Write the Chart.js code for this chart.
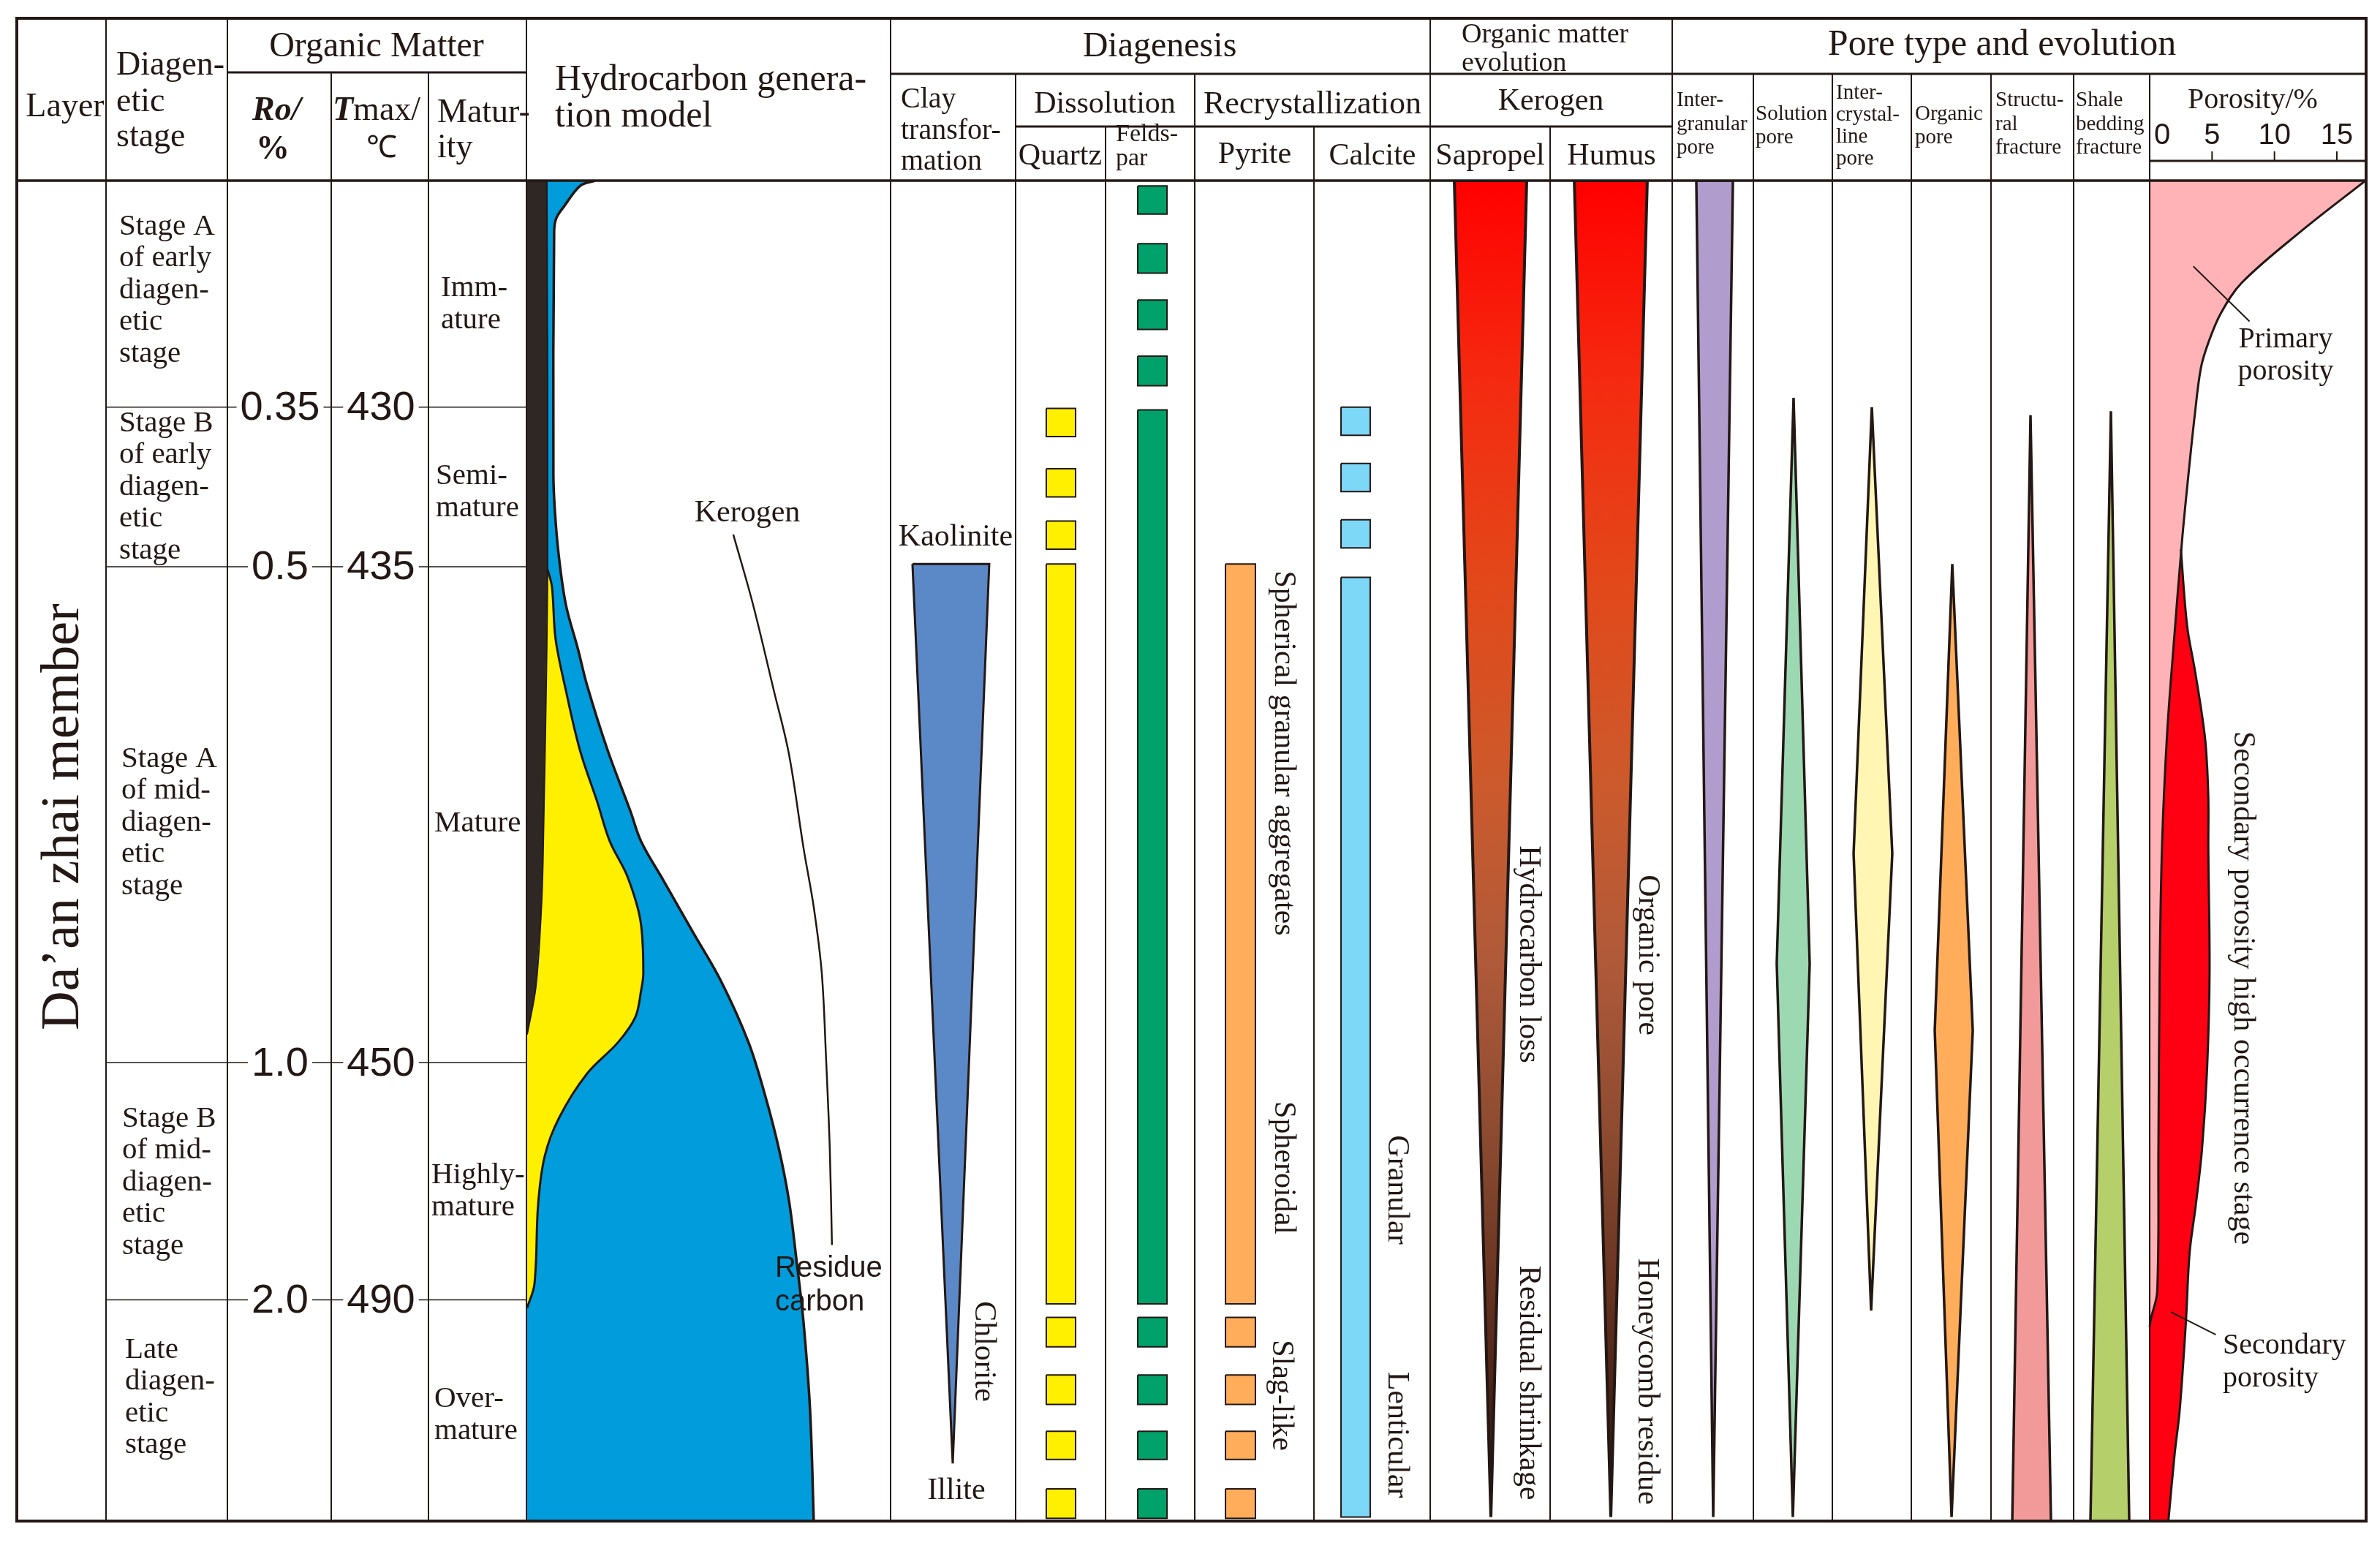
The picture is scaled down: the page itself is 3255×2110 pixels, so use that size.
<!DOCTYPE html>
<html>
<head>
<meta charset="utf-8">
<script src="https://cdn.jsdelivr.net/npm/chart.js@4.4.1/dist/chart.umd.min.js"></script>
<style>
  html, body { margin: 0; padding: 0; background: #fff; }
  canvas { display: block; }
</style>
</head>
<body>
<canvas id="chart" width="3255" height="2110"></canvas>
<script>
// ── Data (depth axis: 0 = top of section, 100 = base) ──
const stageBounds = [16.9, 28.8, 65.8, 83.5];
const roTicks = ['0.35', '0.5', '1.0', '2.0'];
const tmaxTicks = ['430', '435', '450', '490'];
const porosityTicks = [0, 5, 10, 15];

const stageLabels = [
    ['Stage A', 'of early', 'diagen-', 'etic', 'stage'],
    ['Stage B', 'of early', 'diagen-', 'etic', 'stage'],
    ['Stage A', 'of mid-', 'diagen-', 'etic', 'stage'],
    ['Stage B', 'of mid-', 'diagen-', 'etic', 'stage'],
    ['Late', 'diagen-', 'etic', 'stage']
];
const maturityLabels = [['Imm-', 'ature'], ['Semi-', 'mature'], ['Mature'], ['Highly-', 'mature'], ['Over-', 'mature']];

// hydrocarbon generation model, points are [x % of column width, depth %]
const bitumen = [[0, 0], [5.6, 0], [5.8, 29.0], [4.6, 49.8], [4.1, 54.2], [2.6, 60.1], [0.2, 63.7], [0, 63.7]];
const kerogenEdge = [[18.8, 0], [14.7, 0.4], [10.4, 1.9], [8.2, 2.8], [7.6, 3.8], [7.4, 22.0], [7.8, 24.6],
    [8.8, 27.8], [10.8, 31.6], [14.1, 34.9], [16.7, 37.7], [22.3, 42.5], [28.5, 47.0], [31.5, 49.3],
    [37.6, 52.2], [45.8, 56.1], [53.4, 59.7], [61.0, 64.3], [65.5, 68.2], [69.3, 72.2], [72.1, 76.1],
    [74.1, 80.4], [76.1, 85.2], [77.9, 91.8], [78.9, 100]];
const oilEdge = [[5.8, 29.0], [7.0, 30.3], [8.0, 34.2], [10.8, 38.0], [14.7, 42.5], [19.5, 46.4], [22.9, 49.3],
    [27.7, 51.9], [31.3, 55.2], [32.1, 59.1], [31.5, 60.4], [29.9, 62.4], [25.1, 64.3], [16.7, 66.6],
    [9.0, 69.9], [5.0, 72.8], [3.2, 76.4], [2.2, 82.3], [0.2, 84.1]];
const kerogenLeader = [[56.8, 26.4], [62.2, 31.6], [67.9, 38.0], [72.1, 42.8], [76.1, 49.8], [78.9, 54.2],
    [81.1, 59.1], [82.3, 65.6], [83.3, 72.2], [83.9, 79.4]];

// diagenesis
const clayWedge = [[17.5, 28.6], [78.9, 28.6], [49.7, 95.7]];
const quartzBars = [[17.0, 19.1], [21.5, 23.6], [25.4, 27.5], [28.6, 83.8], [84.8, 87.0], [89.1, 91.3], [93.3, 95.4], [97.6, 99.8]];
const feldsparBars = [[0.4, 2.5], [4.7, 6.9], [8.9, 11.1], [13.1, 15.3], [17.1, 83.8], [84.8, 87.0], [89.1, 91.3], [93.3, 95.4], [97.6, 99.8]];
const pyriteBars = [[28.6, 83.8], [84.8, 87.0], [89.1, 91.3], [93.3, 95.4], [97.6, 99.8]];
const calciteBars = [[16.9, 19.0], [21.1, 23.2], [25.3, 27.4], [29.6, 99.7]];

// organic matter evolution
const sapropelWedge = [[20.1, 0], [80.5, 0], [50.6, 99.7]];
const humusWedge = [[19.8, 0], [79.6, 0], [49.7, 99.7]];

// pore types
const intergranularPore = [[29.7, 0], [74.8, 0], [50.5, 99.7]];
const solutionPore = [[50.9, 16.2], [71.3, 58.4], [50.0, 99.7], [29.6, 58.4]];
const intercrystallinePore = [[50.0, 16.9], [75.9, 50.2], [49.1, 84.3], [26.9, 50.2]];
const organicPore = [[51.4, 28.6], [77.1, 63.4], [50.5, 99.7], [29.4, 63.4]];
const structuralFracture = [[47.8, 17.5], [72.6, 100], [25.7, 100]];
const shaleFracture = [[49.0, 17.2], [73.1, 100], [22.1, 100]];

// porosity curves, points are [porosity %, depth %]
const primaryEdge = [[17.3, 0], [12.1, 3.8], [7.4, 7.6], [5.7, 9.9], [4.7, 12.1], [4.1, 14.0], [3.6, 17.6],
    [3.1, 22.0], [2.6, 26.8], [1.9, 34.9], [1.4, 41.2], [1.0, 49.3], [0.8, 59.1], [0.7, 72.2],
    [0.6, 82.9], [0.1, 84.9], [0, 85.5]];
const secondaryEdge = [[2.5, 27.5], [3.0, 33.2], [3.6, 36.4], [4.2, 39.9], [4.5, 42.2], [4.7, 46.0], [4.7, 49.8],
    [4.8, 59.1], [4.6, 66.3], [4.2, 72.2], [3.7, 76.4], [3.2, 80.0], [2.9, 85.2], [2.4, 91.8],
    [2.0, 95.0], [1.5, 100]];
const primaryLeader = [[3.5, 6.4], [8.0, 10.5]];
const secondaryLeader = [[1.7, 84.4], [5.3, 86.1]];

// ── Layout ──
const INK = '#231815';
const SERIF = '"Liberation Serif", "Times New Roman", serif';
const SANS = '"Liberation Sans", Arial, sans-serif';
const BODY = { left: 23, right: 3236, top: 247, bottom: 2080, head: 25 };
const COLS = {
    layer: [23, 145], diag: [145, 311], ro: [311, 453], tmax: [453, 586], mat: [586, 720],
    hc: [720, 1218], clay: [1218, 1389], quartz: [1389, 1512], feldspar: [1512, 1634],
    pyrite: [1634, 1797], calcite: [1797, 1956], sapropel: [1956, 2120], humus: [2120, 2287],
    inter: [2287, 2398], solution: [2398, 2506], intercry: [2506, 2614], organic: [2614, 2723],
    struct: [2723, 2836], shale: [2836, 2940], poro: [2940, 3236]
};
const BAR_SPAN = { quartz: [34.1, 66.7], feldspar: [36.1, 68.9], pyrite: [25.8, 50.9], calcite: [23.3, 48.4] };
const PORO_PX = [2940, 3196]; // where porosity 0 and 15 sit
const poroK = (PORO_PX[1] - PORO_PX[0]) / 15;

const KEROGEN_STOPS = [[0, '#ff0000'], [0.15, '#f52a10'], [0.3, '#e2481a'], [0.45, '#cc5a2c'],
    [0.58, '#b05a3a'], [0.72, '#8a4a30'], [0.86, '#5a2c1c'], [1, '#2a120a']];

// ── Dataset builders ──
function pt(col, [px, py]) {
    if (col === 'poro') return { x: px, y: py };
    const [l, r] = COLS[col];
    return { x: l + (r - l) * px / 100, y: py };
}

function poly(col, pts, style) {
    const data = pts.map(p => pt(col, p));
    data.push({ ...data[0] });
    return Object.assign({
        data, showLine: true, fill: 'shape', tension: 0, pointRadius: 0,
        borderColor: INK, borderWidth: 3.5, xAxisID: col === 'poro' ? 'xp' : 'x'
    }, style);
}

function curve(col, pts, style) {
    return Object.assign({
        data: pts.map(p => pt(col, p)), showLine: true, fill: false, tension: 0.35, pointRadius: 0,
        borderColor: INK, borderWidth: 3, xAxisID: col === 'poro' ? 'xp' : 'x'
    }, style);
}

function bars(col, spans, color) {
    const [a, b] = BAR_SPAN[col];
    const data = [];
    spans.forEach(([top, base]) => {
        [[a, top], [b, top], [b, base], [a, base], [a, top]].forEach(p => data.push(pt(col, p)));
        data.push({ x: null, y: null });
    });
    return { data, showLine: true, fill: 'shape', tension: 0, pointRadius: 0,
        backgroundColor: color, borderColor: INK, borderWidth: 2, xAxisID: 'x' };
}

function kerogenGradient(c) {
    const area = c.chart.chartArea;
    if (!area) return KEROGEN_STOPS[0][1];
    const g = c.chart.ctx.createLinearGradient(0, area.top, 0, area.bottom);
    KEROGEN_STOPS.forEach(([o, col]) => g.addColorStop(o, col));
    return g;
}

const secondaryFill = [...secondaryEdge, [0, 100],
    ...primaryEdge.filter(p => p[1] > secondaryEdge[0][1]).reverse()];
const last = a => a[a.length - 1];

// painter's order: first is bottom
const layers = [
    poly('hc', [[0, 0], ...kerogenEdge, [0, 100]], { backgroundColor: '#009cdc', borderWidth: 0 }),
    poly('hc', [...oilEdge, [0, last(oilEdge)[1]], [0, oilEdge[0][1]]], { backgroundColor: '#fff000', borderWidth: 0 }),
    poly('hc', bitumen, { backgroundColor: '#2e2724', borderWidth: 0 }),
    curve('hc', kerogenEdge, { borderWidth: 3.5 }),
    curve('hc', oilEdge, { borderWidth: 3 }),
    curve('hc', bitumen.slice(1, 7), { borderWidth: 2 }),
    curve('hc', kerogenLeader, { borderWidth: 2.5 }),

    poly('clay', clayWedge, { backgroundColor: '#5b88c6', borderWidth: 3 }),
    bars('quartz', quartzBars, '#fff000'),
    bars('feldspar', feldsparBars, '#00a16b'),
    bars('pyrite', pyriteBars, '#ffad5a'),
    bars('calcite', calciteBars, '#7dd7f6'),

    poly('sapropel', sapropelWedge, { backgroundColor: kerogenGradient, borderWidth: 4 }),
    poly('humus', humusWedge, { backgroundColor: kerogenGradient, borderWidth: 4 }),

    poly('inter', intergranularPore, { backgroundColor: '#b09dce' }),
    poly('solution', solutionPore, { backgroundColor: '#9cd9b2' }),
    poly('intercry', intercrystallinePore, { backgroundColor: '#fff6b4' }),
    poly('organic', organicPore, { backgroundColor: '#ffad5a' }),
    poly('struct', structuralFracture, { backgroundColor: '#f29a9a' }),
    poly('shale', shaleFracture, { backgroundColor: '#b5cf6b' }),

    poly('poro', [[0, 0], ...primaryEdge], { backgroundColor: '#ffb3b6', borderWidth: 0 }),
    poly('poro', secondaryFill, { backgroundColor: '#ff0012', borderWidth: 0 }),
    curve('poro', primaryEdge, { borderWidth: 3 }),
    curve('poro', secondaryEdge, { borderWidth: 3 }),
    curve('poro', primaryLeader, { borderWidth: 2, tension: 0 }),
    curve('poro', secondaryLeader, { borderWidth: 2, tension: 0 })
];

// ── Table, headers and labels ──
const V_RULES = [[145, 25], [311, 25], [453, 99], [586, 99], [720, 25], [1218, 25], [1389, 101], [1512, 173],
    [1634, 101], [1797, 173], [1956, 25], [2120, 173], [2287, 25], [2398, 101], [2506, 101], [2614, 101],
    [2723, 101], [2836, 101], [2940, 101]];
const H_RULES = [[311, 720, 99], [1218, 3236, 101], [1389, 2287, 173], [2940, 3236, 220]];

const HEAD = [
    ['Layer', 89, 147, 46, 'center'],
    ['Diagen-', 159, 90, 46], ['etic', 159, 140, 46], ['stage', 159, 188, 46],
    ['Organic Matter', 515, 64, 48, 'center'],
    ['Matur-', 598, 155, 46], ['ity', 598, 203, 46],
    ['Hydrocarbon genera-', 759, 110, 50], ['tion model', 759, 160, 50],
    ['Diagenesis', 1586, 64, 48, 'center'],
    ['Organic matter', 1999, 48, 38], ['evolution', 1999, 87, 38],
    ['Pore type and evolution', 2738, 62, 50, 'center'],
    ['Clay', 1232, 136, 40], ['transfor-', 1232, 179, 40], ['mation', 1232, 221, 40],
    ['Dissolution', 1511, 143, 42, 'center'], ['Recrystallization', 1795, 143, 44, 'center'],
    ['Kerogen', 2121, 139, 42, 'center'],
    ['Quartz', 1450, 214, 42, 'center'], ['Felds-', 1526, 184, 34], ['par', 1526, 217, 34],
    ['Pyrite', 1716, 212, 42, 'center'], ['Calcite', 1877, 214, 42, 'center'],
    ['Sapropel', 2038, 214, 42, 'center'], ['Humus', 2204, 214, 42, 'center'],
    ['Porosity/%', 3081, 137, 40, 'center'],
    ['Inter-', 2293, 137, 29], ['granular', 2293, 170, 29], ['pore', 2293, 202, 29],
    ['Solution', 2401, 156, 29], ['pore', 2401, 188, 29],
    ['Inter-', 2511, 127, 29], ['crystal-', 2511, 157, 29], ['line', 2511, 187, 29], ['pore', 2511, 217, 29],
    ['Organic', 2619, 156, 29], ['pore', 2619, 188, 29],
    ['Structu-', 2729, 137, 29], ['ral', 2729, 170, 29], ['fracture', 2729, 202, 29],
    ['Shale', 2839, 137, 29], ['bedding', 2839, 170, 29], ['fracture', 2839, 202, 29]
];

// [text, x, y, size, align, rotation deg, family]
const BODY_TEXT = [
    ['Da\u2019an zhai member', 88, 1117, 74, 'center', -90],
    ['Kerogen', 1022, 702, 42, 'center'],
    ['Residue', 1060, 1735, 40, 'left', 0, SANS],
    ['carbon', 1060, 1781, 40, 'left', 0, SANS],
    ['Kaolinite', 1307, 735, 42, 'center'],
    ['Chlorite', 1345, 1848, 42, 'center', 90],
    ['Illite', 1308, 2039, 42, 'center'],
    ['Spherical granular aggregates', 1755, 1030, 42, 'center', 90],
    ['Spheroidal', 1755, 1597, 42, 'center', 90],
    ['Slag-like', 1752, 1908, 42, 'center', 90],
    ['Granular', 1910, 1627, 42, 'center', 90],
    ['Lenticular', 1910, 1962, 42, 'center', 90],
    ['Hydrocarbon loss', 2090, 1305, 42, 'center', 90],
    ['Residual shrinkage', 2090, 1891, 42, 'center', 90],
    ['Organic pore', 2253, 1306, 42, 'center', 90],
    ['Honeycomb residue', 2252, 1889, 42, 'center', 90],
    ['Primary', 3126, 464, 40, 'center'],
    ['porosity', 3126, 508, 40, 'center'],
    ['Secondary porosity high occurrence stage', 3067, 1351, 42, 'center', 90],
    ['Secondary', 3040, 1840, 40, 'left'],
    ['porosity', 3040, 1885, 40, 'left']
];
const STAGE_POS = [[163, 310], [163, 579], [166, 1038], [167, 1530], [171, 1846]];
const MAT_POS = [[603, 394], [596, 651], [594, 1126], [590, 1607], [594, 1913]];

function write(ctx, str, x, y, font, align = 'left', rot = 0) {
    ctx.save();
    ctx.translate(x, y);
    if (rot) ctx.rotate(rot * Math.PI / 180);
    ctx.font = font;
    ctx.textAlign = align;
    ctx.textBaseline = 'middle';
    ctx.fillStyle = INK;
    ctx.fillText(str, 0, 0);
    ctx.restore();
}

const tablePlugin = {
    id: 'table',
    afterDatasetsDraw(chart) {
        const ctx = chart.ctx;
        const X = v => chart.scales.x.getPixelForValue(v);
        const Y = v => chart.scales.y.getPixelForValue(v);
        const XP = v => chart.scales.xp.getPixelForValue(v);
        const rule = (x1, y1, x2, y2, w) => {
            ctx.lineWidth = w;
            ctx.beginPath();
            ctx.moveTo(x1, y1);
            ctx.lineTo(x2, y2);
            ctx.stroke();
        };
        ctx.save();
        ctx.strokeStyle = INK;
        ctx.lineCap = 'butt';

        V_RULES.forEach(([x, top]) => rule(X(x), top, X(x), Y(100), 2));
        H_RULES.forEach(([x1, x2, y]) => rule(X(x1), y, X(x2), y, 3));
        rule(X(BODY.left), Y(0), X(BODY.right), Y(0), 3.5);
        ctx.lineWidth = 4;
        ctx.strokeRect(X(BODY.left), BODY.head, X(BODY.right) - X(BODY.left), Y(100) - BODY.head);

        // stage boundaries with Ro / Tmax values
        stageBounds.forEach((b, i) => {
            rule(X(COLS.diag[0]), Y(b), X(COLS.mat[1]), Y(b), 1.5);
            [[roTicks[i], 383], [tmaxTicks[i], 521]].forEach(([t, x]) => {
                ctx.font = `56px ${SANS}`;
                const w = ctx.measureText(t).width + 10;
                ctx.fillStyle = '#fff';
                ctx.fillRect(X(x) - w / 2, Y(b) - 22, w, 44);
                write(ctx, t, X(x), Y(b) + 2, `56px ${SANS}`, 'center');
            });
        });

        // porosity scale in the header
        porosityTicks.forEach((t, i) => {
            if (i > 0) rule(XP(t), 207, XP(t), 220, 2);
            if (i === 0) write(ctx, String(t), XP(t) + 6, 186, `40px ${SANS}`, 'left');
            else write(ctx, String(t), XP(t), 186, `40px ${SANS}`, 'center');
        });

        HEAD.forEach(([t, x, y, size, align]) => write(ctx, t, X(x), y, `${size}px ${SERIF}`, align || 'left'));
        write(ctx, 'Ro/', X(345), 152, `bold italic 46px ${SERIF}`);
        write(ctx, '%', X(350), 205, `bold 46px ${SERIF}`);
        ctx.font = `bold italic 46px ${SERIF}`;
        const tw = ctx.measureText('T').width;
        write(ctx, 'T', X(455), 152, `bold italic 46px ${SERIF}`);
        write(ctx, 'max/', X(455) + tw, 152, `46px ${SERIF}`);
        write(ctx, '\u2103', X(522), 204, `42px ${SERIF}`, 'center');

        stageLabels.forEach((lines, i) => lines.forEach((t, j) =>
            write(ctx, t, X(STAGE_POS[i][0]), STAGE_POS[i][1] + j * 43.5, `41px ${SERIF}`)));
        maturityLabels.forEach((lines, i) => lines.forEach((t, j) =>
            write(ctx, t, X(MAT_POS[i][0]), MAT_POS[i][1] + j * 44, `41px ${SERIF}`)));

        BODY_TEXT.forEach(([t, x, y, size, align, rot, fam]) =>
            write(ctx, t, X(x), y, `${size}px ${fam || SERIF}`, align, rot || 0));
        ctx.restore();
    }
};

new Chart(document.getElementById('chart'), {
    type: 'scatter',
    data: { datasets: layers.map((d, i) => ({ ...d, order: layers.length - i })) },
    options: {
        responsive: false,
        animation: false,
        events: [],
        layout: { padding: { left: BODY.left, right: 3255 - BODY.right, top: BODY.top, bottom: 2110 - BODY.bottom } },
        plugins: { legend: { display: false }, tooltip: { enabled: false } },
        scales: {
            x: { type: 'linear', min: BODY.left, max: BODY.right, display: false },
            xp: {
                type: 'linear', axis: 'x', display: false,
                min: (BODY.left - PORO_PX[0]) / poroK,
                max: (BODY.right - PORO_PX[0]) / poroK
            },
            y: { type: 'linear', min: 0, max: 100, reverse: true, display: false }
        }
    },
    plugins: [tablePlugin]
});
</script>
</body>
</html>
